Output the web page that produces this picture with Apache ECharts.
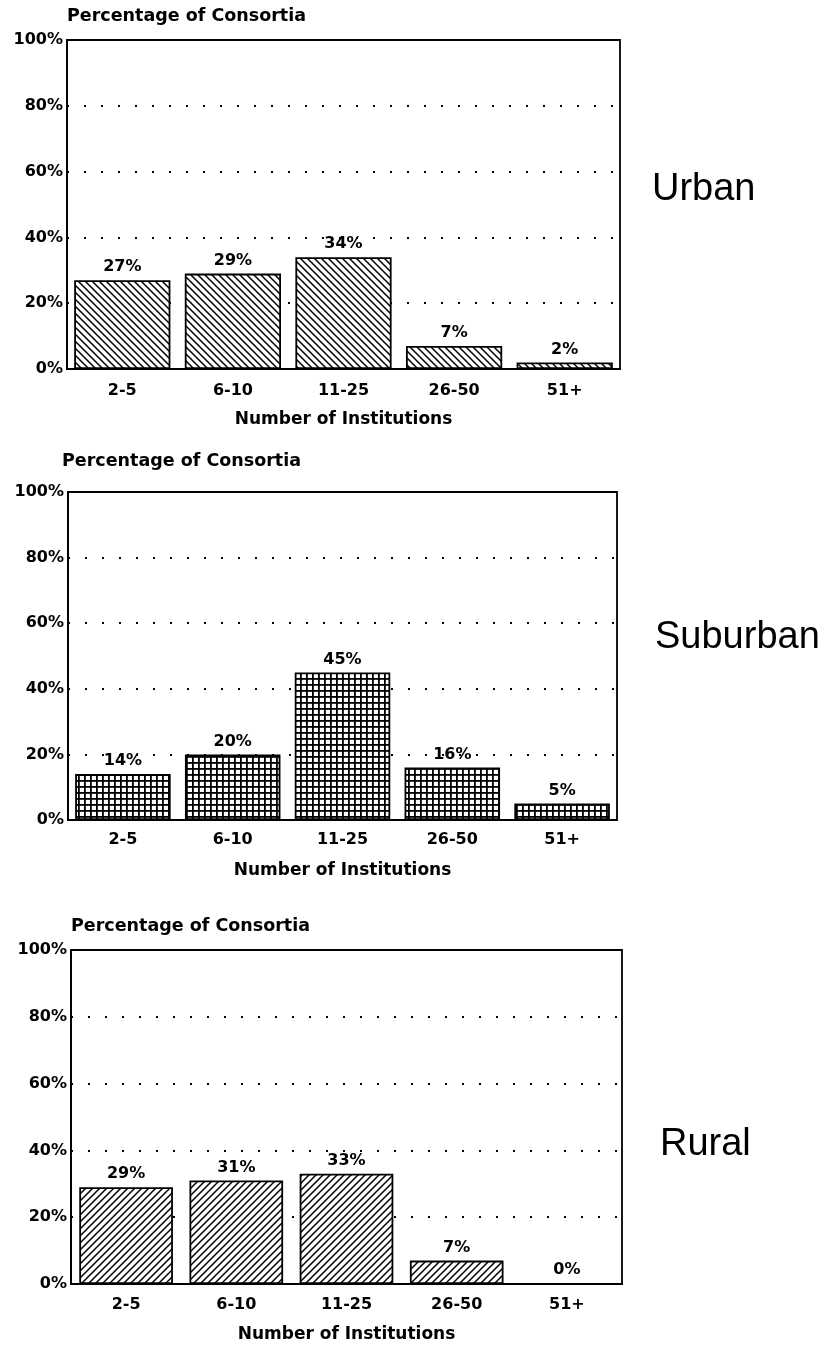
<!DOCTYPE html>
<html>
<head>
<meta charset="utf-8">
<script src="https://cdn.jsdelivr.net/npm/echarts@6/dist/echarts.min.js"></script>
<style>
  html, body { margin: 0; padding: 0; background: #fff; }
  #chart { width: 825px; height: 1348px; }
</style>
</head>
<body>
<div id="chart"></div>
<script>
  // data
  var categories = ['2-5', '6-10', '11-25', '26-50', '51+'];
  var urban = [27, 29, 34, 7, 2];
  var suburban = [14, 20, 45, 16, 5];
  var rural = [29, 31, 33, 7, 0];
  var panelNames = ['Urban', 'Suburban', 'Rural'];
  var yTicks = [0, 20, 40, 60, 80, 100];

  var boldFont = 'DejaVu Sans, sans-serif';
  var sideFont = 'Liberation Sans, Arial, sans-serif';

  // little canvas tiles for the hatch fills
  function makeTile(kind) {
    var c = document.createElement('canvas');
    var s = kind === 'grid' ? 6 : 7;
    c.width = s; c.height = s;
    var ctx = c.getContext('2d');
    ctx.fillStyle = '#fff';
    ctx.fillRect(0, 0, s, s);
    ctx.strokeStyle = '#000';
    ctx.fillStyle = '#000';
    ctx.lineWidth = 1.5;
    if (kind === 'grid') {
      ctx.fillRect(0, 0, s, 1.8);
      ctx.fillRect(0, 0, 1.8, s);
    } else if (kind === 'back') {
      ctx.beginPath();
      ctx.moveTo(-1, -1); ctx.lineTo(s + 1, s + 1);
      ctx.moveTo(-1, s - 1); ctx.lineTo(1, s + 1);
      ctx.moveTo(s - 1, -1); ctx.lineTo(s + 1, 1);
      ctx.stroke();
    } else {
      ctx.beginPath();
      ctx.moveTo(-1, s + 1); ctx.lineTo(s + 1, -1);
      ctx.moveTo(-1, 1); ctx.lineTo(1, -1);
      ctx.moveTo(s - 1, s + 1); ctx.lineTo(s + 1, s - 1);
      ctx.stroke();
    }
    return c;
  }

  var fills = [makeTile('back'), makeTile('grid'), makeTile('fwd')];
  var allData = [urban, suburban, rural];

  var grids = [
    { left: 67, top: 40, width: 553, height: 329 },
    { left: 68, top: 492, width: 549, height: 328 },
    { left: 71, top: 950, width: 551, height: 334 }
  ];
  var headPos = [[67, 7], [62, 452], [71, 917]];
  var sidePos = [[652, 171], [655, 619], [660, 1126]];
  var barWidths = ['87%', '87%', '85%'];
  var labelMargins = [14, 12, 13];

  var option = {
    animation: false,
    grid: [], xAxis: [], yAxis: [], series: [], title: []
  };

  for (var i = 0; i < 3; i++) {
    var g = grids[i];
    option.grid.push({
      left: g.left, top: g.top, width: g.width, height: g.height,
      show: true, borderColor: '#000', borderWidth: 1.8, backgroundColor: 'transparent'
    });
    option.xAxis.push({
      type: 'category', gridIndex: i, data: categories,
      axisLine: { show: true, lineStyle: { color: '#000', width: 1.8 } },
      axisTick: { show: false },
      axisLabel: { color: '#000', fontSize: 16, fontWeight: 'bold', margin: labelMargins[i], fontFamily: boldFont },
      name: 'Number of Institutions', nameLocation: 'middle', nameGap: 42,
      nameTextStyle: { color: '#000', fontSize: 17, fontWeight: 'bold', fontFamily: boldFont }
    });
    option.yAxis.push({
      type: 'value', gridIndex: i, min: 0, max: 100, interval: 20,
      axisLine: { show: true, lineStyle: { color: '#000', width: 1.8 } },
      axisTick: { show: false },
      axisLabel: {
        color: '#000', fontSize: 16, fontWeight: 'bold', margin: 4, fontFamily: boldFont,
        formatter: function (v) { return yTicks.indexOf(v) >= 0 ? v + '%' : ''; }
      },
      splitLine: {
        show: true,
        lineStyle: { color: '#000', width: 2, type: [2, 15] }
      }
    });
    option.series.push({
      type: 'bar', xAxisIndex: i, yAxisIndex: i,
      data: allData[i],
      barWidth: barWidths[i],
      z: 3,
      itemStyle: {
        color: { image: fills[i], repeat: 'repeat' },
        borderColor: '#000', borderWidth: 1.8
      },
      label: {
        show: true, position: 'top', distance: 5,
        color: '#000', fontSize: 16, fontWeight: 'bold', fontFamily: boldFont,
        formatter: '{c}%'
      }
    });
    option.title.push({
      text: 'Percentage of Consortia', left: headPos[i][0], top: headPos[i][1], padding: 0,
      textStyle: { color: '#000', fontSize: 17.5, fontWeight: 'bold', fontFamily: boldFont }
    });
    option.title.push({
      text: panelNames[i], left: sidePos[i][0], top: sidePos[i][1], padding: 0,
      textStyle: { color: '#000', fontSize: 38, fontWeight: 'normal', fontFamily: sideFont }
    });
  }

  var chart = echarts.init(document.getElementById('chart'));
  chart.setOption(option);
</script>
</body>
</html>
